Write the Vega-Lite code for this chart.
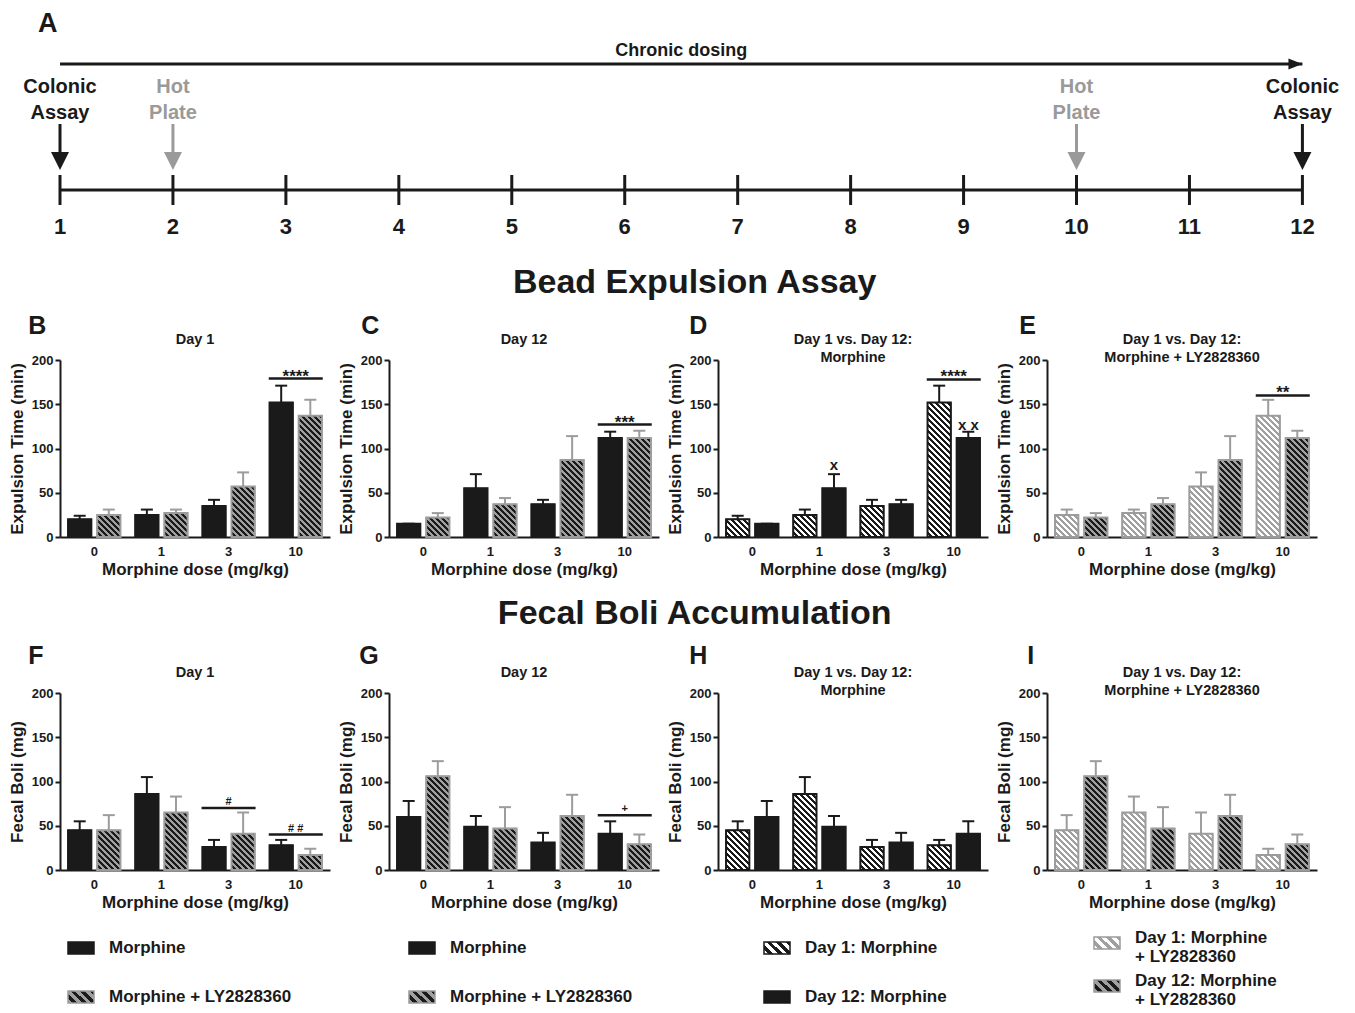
{
"$schema":"https://vega.github.io/schema/vega-lite/v6.json",
"background":"white",
"padding":{"left":8,"top":9,"right":5,"bottom":0},
"config":{
 "font":"Liberation Sans",
 "view":{"stroke":null},
 "title":{"font":"Liberation Sans","fontWeight":"bold","color":"#1a1a1a"},
 "axis":{"labelFont":"Liberation Sans","titleFont":"Liberation Sans","labelFontWeight":"bold","titleFontWeight":"bold","labelColor":"#1a1a1a","titleColor":"#1a1a1a","domainColor":"#1a1a1a","tickColor":"#1a1a1a","domainWidth":2,"tickWidth":2,"grid":false,"labelFontSize":13,"titleFontSize":17},
 "axisX":{"ticks":false,"labelAngle":0,"labelPadding":8,"titlePadding":3},
 "axisY":{"tickSize":5,"labelPadding":2,"titlePadding":5},
 "text":{"font":"Liberation Sans"},
 "legend":{"labelFont":"Liberation Sans"}
},
"params":[
 {"name":"sGB","value":[{"offset":0,"color":"#a0a0a0"},{"offset":0.0179,"color":"#a0a0a0"},{"offset":0.0179,"color":"#1a1a1a"},{"offset":0.0357,"color":"#1a1a1a"},{"offset":0.0357,"color":"#a0a0a0"},{"offset":0.0536,"color":"#a0a0a0"},{"offset":0.0536,"color":"#1a1a1a"},{"offset":0.0714,"color":"#1a1a1a"},{"offset":0.0714,"color":"#a0a0a0"},{"offset":0.0893,"color":"#a0a0a0"},{"offset":0.0893,"color":"#1a1a1a"},{"offset":0.1071,"color":"#1a1a1a"},{"offset":0.1071,"color":"#a0a0a0"},{"offset":0.125,"color":"#a0a0a0"},{"offset":0.125,"color":"#1a1a1a"},{"offset":0.1429,"color":"#1a1a1a"},{"offset":0.1429,"color":"#a0a0a0"},{"offset":0.1607,"color":"#a0a0a0"},{"offset":0.1607,"color":"#1a1a1a"},{"offset":0.1786,"color":"#1a1a1a"},{"offset":0.1786,"color":"#a0a0a0"},{"offset":0.1964,"color":"#a0a0a0"},{"offset":0.1964,"color":"#1a1a1a"},{"offset":0.2143,"color":"#1a1a1a"},{"offset":0.2143,"color":"#a0a0a0"},{"offset":0.2321,"color":"#a0a0a0"},{"offset":0.2321,"color":"#1a1a1a"},{"offset":0.25,"color":"#1a1a1a"},{"offset":0.25,"color":"#a0a0a0"},{"offset":0.2679,"color":"#a0a0a0"},{"offset":0.2679,"color":"#1a1a1a"},{"offset":0.2857,"color":"#1a1a1a"},{"offset":0.2857,"color":"#a0a0a0"},{"offset":0.3036,"color":"#a0a0a0"},{"offset":0.3036,"color":"#1a1a1a"},{"offset":0.3214,"color":"#1a1a1a"},{"offset":0.3214,"color":"#a0a0a0"},{"offset":0.3393,"color":"#a0a0a0"},{"offset":0.3393,"color":"#1a1a1a"},{"offset":0.3571,"color":"#1a1a1a"},{"offset":0.3571,"color":"#a0a0a0"},{"offset":0.375,"color":"#a0a0a0"},{"offset":0.375,"color":"#1a1a1a"},{"offset":0.3929,"color":"#1a1a1a"},{"offset":0.3929,"color":"#a0a0a0"},{"offset":0.4107,"color":"#a0a0a0"},{"offset":0.4107,"color":"#1a1a1a"},{"offset":0.4286,"color":"#1a1a1a"},{"offset":0.4286,"color":"#a0a0a0"},{"offset":0.4464,"color":"#a0a0a0"},{"offset":0.4464,"color":"#1a1a1a"},{"offset":0.4643,"color":"#1a1a1a"},{"offset":0.4643,"color":"#a0a0a0"},{"offset":0.4821,"color":"#a0a0a0"},{"offset":0.4821,"color":"#1a1a1a"},{"offset":0.5,"color":"#1a1a1a"},{"offset":0.5,"color":"#a0a0a0"},{"offset":0.5179,"color":"#a0a0a0"},{"offset":0.5179,"color":"#1a1a1a"},{"offset":0.5357,"color":"#1a1a1a"},{"offset":0.5357,"color":"#a0a0a0"},{"offset":0.5536,"color":"#a0a0a0"},{"offset":0.5536,"color":"#1a1a1a"},{"offset":0.5714,"color":"#1a1a1a"},{"offset":0.5714,"color":"#a0a0a0"},{"offset":0.5893,"color":"#a0a0a0"},{"offset":0.5893,"color":"#1a1a1a"},{"offset":0.6071,"color":"#1a1a1a"},{"offset":0.6071,"color":"#a0a0a0"},{"offset":0.625,"color":"#a0a0a0"},{"offset":0.625,"color":"#1a1a1a"},{"offset":0.6429,"color":"#1a1a1a"},{"offset":0.6429,"color":"#a0a0a0"},{"offset":0.6607,"color":"#a0a0a0"},{"offset":0.6607,"color":"#1a1a1a"},{"offset":0.6786,"color":"#1a1a1a"},{"offset":0.6786,"color":"#a0a0a0"},{"offset":0.6964,"color":"#a0a0a0"},{"offset":0.6964,"color":"#1a1a1a"},{"offset":0.7143,"color":"#1a1a1a"},{"offset":0.7143,"color":"#a0a0a0"},{"offset":0.7321,"color":"#a0a0a0"},{"offset":0.7321,"color":"#1a1a1a"},{"offset":0.75,"color":"#1a1a1a"},{"offset":0.75,"color":"#a0a0a0"},{"offset":0.7679,"color":"#a0a0a0"},{"offset":0.7679,"color":"#1a1a1a"},{"offset":0.7857,"color":"#1a1a1a"},{"offset":0.7857,"color":"#a0a0a0"},{"offset":0.8036,"color":"#a0a0a0"},{"offset":0.8036,"color":"#1a1a1a"},{"offset":0.8214,"color":"#1a1a1a"},{"offset":0.8214,"color":"#a0a0a0"},{"offset":0.8393,"color":"#a0a0a0"},{"offset":0.8393,"color":"#1a1a1a"},{"offset":0.8571,"color":"#1a1a1a"},{"offset":0.8571,"color":"#a0a0a0"},{"offset":0.875,"color":"#a0a0a0"},{"offset":0.875,"color":"#1a1a1a"},{"offset":0.8929,"color":"#1a1a1a"},{"offset":0.8929,"color":"#a0a0a0"},{"offset":0.9107,"color":"#a0a0a0"},{"offset":0.9107,"color":"#1a1a1a"},{"offset":0.9286,"color":"#1a1a1a"},{"offset":0.9286,"color":"#a0a0a0"},{"offset":0.9464,"color":"#a0a0a0"},{"offset":0.9464,"color":"#1a1a1a"},{"offset":0.9643,"color":"#1a1a1a"},{"offset":0.9643,"color":"#a0a0a0"},{"offset":0.9821,"color":"#a0a0a0"},{"offset":0.9821,"color":"#1a1a1a"},{"offset":1,"color":"#1a1a1a"}]},
 {"name":"sWB","value":[{"offset":0,"color":"#ffffff"},{"offset":0.0179,"color":"#ffffff"},{"offset":0.0179,"color":"#1a1a1a"},{"offset":0.0357,"color":"#1a1a1a"},{"offset":0.0357,"color":"#ffffff"},{"offset":0.0536,"color":"#ffffff"},{"offset":0.0536,"color":"#1a1a1a"},{"offset":0.0714,"color":"#1a1a1a"},{"offset":0.0714,"color":"#ffffff"},{"offset":0.0893,"color":"#ffffff"},{"offset":0.0893,"color":"#1a1a1a"},{"offset":0.1071,"color":"#1a1a1a"},{"offset":0.1071,"color":"#ffffff"},{"offset":0.125,"color":"#ffffff"},{"offset":0.125,"color":"#1a1a1a"},{"offset":0.1429,"color":"#1a1a1a"},{"offset":0.1429,"color":"#ffffff"},{"offset":0.1607,"color":"#ffffff"},{"offset":0.1607,"color":"#1a1a1a"},{"offset":0.1786,"color":"#1a1a1a"},{"offset":0.1786,"color":"#ffffff"},{"offset":0.1964,"color":"#ffffff"},{"offset":0.1964,"color":"#1a1a1a"},{"offset":0.2143,"color":"#1a1a1a"},{"offset":0.2143,"color":"#ffffff"},{"offset":0.2321,"color":"#ffffff"},{"offset":0.2321,"color":"#1a1a1a"},{"offset":0.25,"color":"#1a1a1a"},{"offset":0.25,"color":"#ffffff"},{"offset":0.2679,"color":"#ffffff"},{"offset":0.2679,"color":"#1a1a1a"},{"offset":0.2857,"color":"#1a1a1a"},{"offset":0.2857,"color":"#ffffff"},{"offset":0.3036,"color":"#ffffff"},{"offset":0.3036,"color":"#1a1a1a"},{"offset":0.3214,"color":"#1a1a1a"},{"offset":0.3214,"color":"#ffffff"},{"offset":0.3393,"color":"#ffffff"},{"offset":0.3393,"color":"#1a1a1a"},{"offset":0.3571,"color":"#1a1a1a"},{"offset":0.3571,"color":"#ffffff"},{"offset":0.375,"color":"#ffffff"},{"offset":0.375,"color":"#1a1a1a"},{"offset":0.3929,"color":"#1a1a1a"},{"offset":0.3929,"color":"#ffffff"},{"offset":0.4107,"color":"#ffffff"},{"offset":0.4107,"color":"#1a1a1a"},{"offset":0.4286,"color":"#1a1a1a"},{"offset":0.4286,"color":"#ffffff"},{"offset":0.4464,"color":"#ffffff"},{"offset":0.4464,"color":"#1a1a1a"},{"offset":0.4643,"color":"#1a1a1a"},{"offset":0.4643,"color":"#ffffff"},{"offset":0.4821,"color":"#ffffff"},{"offset":0.4821,"color":"#1a1a1a"},{"offset":0.5,"color":"#1a1a1a"},{"offset":0.5,"color":"#ffffff"},{"offset":0.5179,"color":"#ffffff"},{"offset":0.5179,"color":"#1a1a1a"},{"offset":0.5357,"color":"#1a1a1a"},{"offset":0.5357,"color":"#ffffff"},{"offset":0.5536,"color":"#ffffff"},{"offset":0.5536,"color":"#1a1a1a"},{"offset":0.5714,"color":"#1a1a1a"},{"offset":0.5714,"color":"#ffffff"},{"offset":0.5893,"color":"#ffffff"},{"offset":0.5893,"color":"#1a1a1a"},{"offset":0.6071,"color":"#1a1a1a"},{"offset":0.6071,"color":"#ffffff"},{"offset":0.625,"color":"#ffffff"},{"offset":0.625,"color":"#1a1a1a"},{"offset":0.6429,"color":"#1a1a1a"},{"offset":0.6429,"color":"#ffffff"},{"offset":0.6607,"color":"#ffffff"},{"offset":0.6607,"color":"#1a1a1a"},{"offset":0.6786,"color":"#1a1a1a"},{"offset":0.6786,"color":"#ffffff"},{"offset":0.6964,"color":"#ffffff"},{"offset":0.6964,"color":"#1a1a1a"},{"offset":0.7143,"color":"#1a1a1a"},{"offset":0.7143,"color":"#ffffff"},{"offset":0.7321,"color":"#ffffff"},{"offset":0.7321,"color":"#1a1a1a"},{"offset":0.75,"color":"#1a1a1a"},{"offset":0.75,"color":"#ffffff"},{"offset":0.7679,"color":"#ffffff"},{"offset":0.7679,"color":"#1a1a1a"},{"offset":0.7857,"color":"#1a1a1a"},{"offset":0.7857,"color":"#ffffff"},{"offset":0.8036,"color":"#ffffff"},{"offset":0.8036,"color":"#1a1a1a"},{"offset":0.8214,"color":"#1a1a1a"},{"offset":0.8214,"color":"#ffffff"},{"offset":0.8393,"color":"#ffffff"},{"offset":0.8393,"color":"#1a1a1a"},{"offset":0.8571,"color":"#1a1a1a"},{"offset":0.8571,"color":"#ffffff"},{"offset":0.875,"color":"#ffffff"},{"offset":0.875,"color":"#1a1a1a"},{"offset":0.8929,"color":"#1a1a1a"},{"offset":0.8929,"color":"#ffffff"},{"offset":0.9107,"color":"#ffffff"},{"offset":0.9107,"color":"#1a1a1a"},{"offset":0.9286,"color":"#1a1a1a"},{"offset":0.9286,"color":"#ffffff"},{"offset":0.9464,"color":"#ffffff"},{"offset":0.9464,"color":"#1a1a1a"},{"offset":0.9643,"color":"#1a1a1a"},{"offset":0.9643,"color":"#ffffff"},{"offset":0.9821,"color":"#ffffff"},{"offset":0.9821,"color":"#1a1a1a"},{"offset":1,"color":"#1a1a1a"}]},
 {"name":"sWG","value":[{"offset":0,"color":"#ffffff"},{"offset":0.0179,"color":"#ffffff"},{"offset":0.0179,"color":"#a0a0a0"},{"offset":0.0357,"color":"#a0a0a0"},{"offset":0.0357,"color":"#ffffff"},{"offset":0.0536,"color":"#ffffff"},{"offset":0.0536,"color":"#a0a0a0"},{"offset":0.0714,"color":"#a0a0a0"},{"offset":0.0714,"color":"#ffffff"},{"offset":0.0893,"color":"#ffffff"},{"offset":0.0893,"color":"#a0a0a0"},{"offset":0.1071,"color":"#a0a0a0"},{"offset":0.1071,"color":"#ffffff"},{"offset":0.125,"color":"#ffffff"},{"offset":0.125,"color":"#a0a0a0"},{"offset":0.1429,"color":"#a0a0a0"},{"offset":0.1429,"color":"#ffffff"},{"offset":0.1607,"color":"#ffffff"},{"offset":0.1607,"color":"#a0a0a0"},{"offset":0.1786,"color":"#a0a0a0"},{"offset":0.1786,"color":"#ffffff"},{"offset":0.1964,"color":"#ffffff"},{"offset":0.1964,"color":"#a0a0a0"},{"offset":0.2143,"color":"#a0a0a0"},{"offset":0.2143,"color":"#ffffff"},{"offset":0.2321,"color":"#ffffff"},{"offset":0.2321,"color":"#a0a0a0"},{"offset":0.25,"color":"#a0a0a0"},{"offset":0.25,"color":"#ffffff"},{"offset":0.2679,"color":"#ffffff"},{"offset":0.2679,"color":"#a0a0a0"},{"offset":0.2857,"color":"#a0a0a0"},{"offset":0.2857,"color":"#ffffff"},{"offset":0.3036,"color":"#ffffff"},{"offset":0.3036,"color":"#a0a0a0"},{"offset":0.3214,"color":"#a0a0a0"},{"offset":0.3214,"color":"#ffffff"},{"offset":0.3393,"color":"#ffffff"},{"offset":0.3393,"color":"#a0a0a0"},{"offset":0.3571,"color":"#a0a0a0"},{"offset":0.3571,"color":"#ffffff"},{"offset":0.375,"color":"#ffffff"},{"offset":0.375,"color":"#a0a0a0"},{"offset":0.3929,"color":"#a0a0a0"},{"offset":0.3929,"color":"#ffffff"},{"offset":0.4107,"color":"#ffffff"},{"offset":0.4107,"color":"#a0a0a0"},{"offset":0.4286,"color":"#a0a0a0"},{"offset":0.4286,"color":"#ffffff"},{"offset":0.4464,"color":"#ffffff"},{"offset":0.4464,"color":"#a0a0a0"},{"offset":0.4643,"color":"#a0a0a0"},{"offset":0.4643,"color":"#ffffff"},{"offset":0.4821,"color":"#ffffff"},{"offset":0.4821,"color":"#a0a0a0"},{"offset":0.5,"color":"#a0a0a0"},{"offset":0.5,"color":"#ffffff"},{"offset":0.5179,"color":"#ffffff"},{"offset":0.5179,"color":"#a0a0a0"},{"offset":0.5357,"color":"#a0a0a0"},{"offset":0.5357,"color":"#ffffff"},{"offset":0.5536,"color":"#ffffff"},{"offset":0.5536,"color":"#a0a0a0"},{"offset":0.5714,"color":"#a0a0a0"},{"offset":0.5714,"color":"#ffffff"},{"offset":0.5893,"color":"#ffffff"},{"offset":0.5893,"color":"#a0a0a0"},{"offset":0.6071,"color":"#a0a0a0"},{"offset":0.6071,"color":"#ffffff"},{"offset":0.625,"color":"#ffffff"},{"offset":0.625,"color":"#a0a0a0"},{"offset":0.6429,"color":"#a0a0a0"},{"offset":0.6429,"color":"#ffffff"},{"offset":0.6607,"color":"#ffffff"},{"offset":0.6607,"color":"#a0a0a0"},{"offset":0.6786,"color":"#a0a0a0"},{"offset":0.6786,"color":"#ffffff"},{"offset":0.6964,"color":"#ffffff"},{"offset":0.6964,"color":"#a0a0a0"},{"offset":0.7143,"color":"#a0a0a0"},{"offset":0.7143,"color":"#ffffff"},{"offset":0.7321,"color":"#ffffff"},{"offset":0.7321,"color":"#a0a0a0"},{"offset":0.75,"color":"#a0a0a0"},{"offset":0.75,"color":"#ffffff"},{"offset":0.7679,"color":"#ffffff"},{"offset":0.7679,"color":"#a0a0a0"},{"offset":0.7857,"color":"#a0a0a0"},{"offset":0.7857,"color":"#ffffff"},{"offset":0.8036,"color":"#ffffff"},{"offset":0.8036,"color":"#a0a0a0"},{"offset":0.8214,"color":"#a0a0a0"},{"offset":0.8214,"color":"#ffffff"},{"offset":0.8393,"color":"#ffffff"},{"offset":0.8393,"color":"#a0a0a0"},{"offset":0.8571,"color":"#a0a0a0"},{"offset":0.8571,"color":"#ffffff"},{"offset":0.875,"color":"#ffffff"},{"offset":0.875,"color":"#a0a0a0"},{"offset":0.8929,"color":"#a0a0a0"},{"offset":0.8929,"color":"#ffffff"},{"offset":0.9107,"color":"#ffffff"},{"offset":0.9107,"color":"#a0a0a0"},{"offset":0.9286,"color":"#a0a0a0"},{"offset":0.9286,"color":"#ffffff"},{"offset":0.9464,"color":"#ffffff"},{"offset":0.9464,"color":"#a0a0a0"},{"offset":0.9643,"color":"#a0a0a0"},{"offset":0.9643,"color":"#ffffff"},{"offset":0.9821,"color":"#ffffff"},{"offset":0.9821,"color":"#a0a0a0"},{"offset":1,"color":"#a0a0a0"}]},
 {"name":"lgGB","value":{"gradient":"linear","x1":0,"y1":1,"x2":1.205,"y2":0.444,"stops":[{"offset":0,"color":"#a0a0a0"},{"offset":0.125,"color":"#a0a0a0"},{"offset":0.125,"color":"#1a1a1a"},{"offset":0.25,"color":"#1a1a1a"},{"offset":0.25,"color":"#a0a0a0"},{"offset":0.375,"color":"#a0a0a0"},{"offset":0.375,"color":"#1a1a1a"},{"offset":0.5,"color":"#1a1a1a"},{"offset":0.5,"color":"#a0a0a0"},{"offset":0.625,"color":"#a0a0a0"},{"offset":0.625,"color":"#1a1a1a"},{"offset":0.75,"color":"#1a1a1a"},{"offset":0.75,"color":"#a0a0a0"},{"offset":0.875,"color":"#a0a0a0"},{"offset":0.875,"color":"#1a1a1a"},{"offset":1,"color":"#1a1a1a"}]}},
 {"name":"lgWB","value":{"gradient":"linear","x1":0,"y1":1,"x2":1.205,"y2":0.444,"stops":[{"offset":0,"color":"#ffffff"},{"offset":0.125,"color":"#ffffff"},{"offset":0.125,"color":"#1a1a1a"},{"offset":0.25,"color":"#1a1a1a"},{"offset":0.25,"color":"#ffffff"},{"offset":0.375,"color":"#ffffff"},{"offset":0.375,"color":"#1a1a1a"},{"offset":0.5,"color":"#1a1a1a"},{"offset":0.5,"color":"#ffffff"},{"offset":0.625,"color":"#ffffff"},{"offset":0.625,"color":"#1a1a1a"},{"offset":0.75,"color":"#1a1a1a"},{"offset":0.75,"color":"#ffffff"},{"offset":0.875,"color":"#ffffff"},{"offset":0.875,"color":"#1a1a1a"},{"offset":1,"color":"#1a1a1a"}]}},
 {"name":"lgWG","value":{"gradient":"linear","x1":0,"y1":1,"x2":1.205,"y2":0.444,"stops":[{"offset":0,"color":"#ffffff"},{"offset":0.125,"color":"#ffffff"},{"offset":0.125,"color":"#a0a0a0"},{"offset":0.25,"color":"#a0a0a0"},{"offset":0.25,"color":"#ffffff"},{"offset":0.375,"color":"#ffffff"},{"offset":0.375,"color":"#a0a0a0"},{"offset":0.5,"color":"#a0a0a0"},{"offset":0.5,"color":"#ffffff"},{"offset":0.625,"color":"#ffffff"},{"offset":0.625,"color":"#a0a0a0"},{"offset":0.75,"color":"#a0a0a0"},{"offset":0.75,"color":"#ffffff"},{"offset":0.875,"color":"#ffffff"},{"offset":0.875,"color":"#a0a0a0"},{"offset":1,"color":"#a0a0a0"}]}}
],
"datasets":{
 "span":[{"start":1,"end":12,"label":"Chronic dosing"}],
 "days":[{"day":1},{"day":2},{"day":3},{"day":4},{"day":5},{"day":6},{"day":7},{"day":8},{"day":9},{"day":10},{"day":11},{"day":12}],
 "events":[{"day":1,"event":"Colonic Assay","type":"Colonic"},{"day":2,"event":"Hot Plate","type":"Hot"},{"day":10,"event":"Hot Plate","type":"Hot"},{"day":12,"event":"Colonic Assay","type":"Colonic"}],
 "bars":[
  {"panel":"B","dose":"0","grp":"Morphine","mean":20,"upper":24},
  {"panel":"B","dose":"1","grp":"Morphine","mean":25,"upper":31},
  {"panel":"B","dose":"3","grp":"Morphine","mean":35,"upper":42},
  {"panel":"B","dose":"10","grp":"Morphine","mean":152,"upper":171},
  {"panel":"B","dose":"0","grp":"Morphine + LY2828360","mean":25,"upper":31},
  {"panel":"B","dose":"1","grp":"Morphine + LY2828360","mean":27,"upper":31},
  {"panel":"B","dose":"3","grp":"Morphine + LY2828360","mean":57,"upper":73},
  {"panel":"B","dose":"10","grp":"Morphine + LY2828360","mean":137,"upper":155},
  {"panel":"C","dose":"0","grp":"Morphine","mean":15,"upper":15},
  {"panel":"C","dose":"1","grp":"Morphine","mean":55,"upper":71},
  {"panel":"C","dose":"3","grp":"Morphine","mean":37,"upper":42},
  {"panel":"C","dose":"10","grp":"Morphine","mean":112,"upper":119},
  {"panel":"C","dose":"0","grp":"Morphine + LY2828360","mean":22,"upper":27},
  {"panel":"C","dose":"1","grp":"Morphine + LY2828360","mean":37,"upper":44},
  {"panel":"C","dose":"3","grp":"Morphine + LY2828360","mean":87,"upper":114},
  {"panel":"C","dose":"10","grp":"Morphine + LY2828360","mean":112,"upper":120},
  {"panel":"D","dose":"0","grp":"Day 1: Morphine","mean":20,"upper":24},
  {"panel":"D","dose":"1","grp":"Day 1: Morphine","mean":25,"upper":31},
  {"panel":"D","dose":"3","grp":"Day 1: Morphine","mean":35,"upper":42},
  {"panel":"D","dose":"10","grp":"Day 1: Morphine","mean":152,"upper":171},
  {"panel":"D","dose":"0","grp":"Day 12: Morphine","mean":15,"upper":15},
  {"panel":"D","dose":"1","grp":"Day 12: Morphine","mean":55,"upper":71},
  {"panel":"D","dose":"3","grp":"Day 12: Morphine","mean":37,"upper":42},
  {"panel":"D","dose":"10","grp":"Day 12: Morphine","mean":112,"upper":119},
  {"panel":"E","dose":"0","grp":"Day 1: Morphine + LY2828360","mean":25,"upper":31},
  {"panel":"E","dose":"1","grp":"Day 1: Morphine + LY2828360","mean":27,"upper":31},
  {"panel":"E","dose":"3","grp":"Day 1: Morphine + LY2828360","mean":57,"upper":73},
  {"panel":"E","dose":"10","grp":"Day 1: Morphine + LY2828360","mean":137,"upper":155},
  {"panel":"E","dose":"0","grp":"Day 12: Morphine + LY2828360","mean":22,"upper":27},
  {"panel":"E","dose":"1","grp":"Day 12: Morphine + LY2828360","mean":37,"upper":44},
  {"panel":"E","dose":"3","grp":"Day 12: Morphine + LY2828360","mean":87,"upper":114},
  {"panel":"E","dose":"10","grp":"Day 12: Morphine + LY2828360","mean":112,"upper":120},
  {"panel":"F","dose":"0","grp":"Morphine","mean":45,"upper":55},
  {"panel":"F","dose":"1","grp":"Morphine","mean":86,"upper":105},
  {"panel":"F","dose":"3","grp":"Morphine","mean":26,"upper":34},
  {"panel":"F","dose":"10","grp":"Morphine","mean":28,"upper":34},
  {"panel":"F","dose":"0","grp":"Morphine + LY2828360","mean":45,"upper":62},
  {"panel":"F","dose":"1","grp":"Morphine + LY2828360","mean":65,"upper":83},
  {"panel":"F","dose":"3","grp":"Morphine + LY2828360","mean":41,"upper":65},
  {"panel":"F","dose":"10","grp":"Morphine + LY2828360","mean":17,"upper":24},
  {"panel":"G","dose":"0","grp":"Morphine","mean":60,"upper":78},
  {"panel":"G","dose":"1","grp":"Morphine","mean":49,"upper":61},
  {"panel":"G","dose":"3","grp":"Morphine","mean":31,"upper":42},
  {"panel":"G","dose":"10","grp":"Morphine","mean":41,"upper":55},
  {"panel":"G","dose":"0","grp":"Morphine + LY2828360","mean":106,"upper":123},
  {"panel":"G","dose":"1","grp":"Morphine + LY2828360","mean":47,"upper":71},
  {"panel":"G","dose":"3","grp":"Morphine + LY2828360","mean":61,"upper":85},
  {"panel":"G","dose":"10","grp":"Morphine + LY2828360","mean":29,"upper":40},
  {"panel":"H","dose":"0","grp":"Day 1: Morphine","mean":45,"upper":55},
  {"panel":"H","dose":"1","grp":"Day 1: Morphine","mean":86,"upper":105},
  {"panel":"H","dose":"3","grp":"Day 1: Morphine","mean":26,"upper":34},
  {"panel":"H","dose":"10","grp":"Day 1: Morphine","mean":28,"upper":34},
  {"panel":"H","dose":"0","grp":"Day 12: Morphine","mean":60,"upper":78},
  {"panel":"H","dose":"1","grp":"Day 12: Morphine","mean":49,"upper":61},
  {"panel":"H","dose":"3","grp":"Day 12: Morphine","mean":31,"upper":42},
  {"panel":"H","dose":"10","grp":"Day 12: Morphine","mean":41,"upper":55},
  {"panel":"I","dose":"0","grp":"Day 1: Morphine + LY2828360","mean":45,"upper":62},
  {"panel":"I","dose":"1","grp":"Day 1: Morphine + LY2828360","mean":65,"upper":83},
  {"panel":"I","dose":"3","grp":"Day 1: Morphine + LY2828360","mean":41,"upper":65},
  {"panel":"I","dose":"10","grp":"Day 1: Morphine + LY2828360","mean":17,"upper":24},
  {"panel":"I","dose":"0","grp":"Day 12: Morphine + LY2828360","mean":106,"upper":123},
  {"panel":"I","dose":"1","grp":"Day 12: Morphine + LY2828360","mean":47,"upper":71},
  {"panel":"I","dose":"3","grp":"Day 12: Morphine + LY2828360","mean":61,"upper":85},
  {"panel":"I","dose":"10","grp":"Day 12: Morphine + LY2828360","mean":29,"upper":40}
 ],
 "sig":[
  {"panel":"B","dose":"10","y":179,"label":"****"},
  {"panel":"C","dose":"10","y":127,"label":"***"},
  {"panel":"D","dose":"10","y":178,"label":"****"},
  {"panel":"E","dose":"10","y":160,"label":"**"},
  {"panel":"F","dose":"3","y":70,"label":"#"},
  {"panel":"F","dose":"10","y":40,"label":"# #"},
  {"panel":"G","dose":"10","y":62,"label":"+"}
 ],
 "marks":[
  {"panel":"D","dose":"1","grp":"Day 12: Morphine","y":81,"label":"x"},
  {"panel":"D","dose":"10","grp":"Day 12: Morphine","y":127,"label":"x x"}
 ]
},
"resolve":{"scale":{"fill":"independent","stroke":"independent","xOffset":"independent","color":"independent","x":"independent","y":"independent"}},
"spacing":23,
"vconcat":[
 {
  "title":{"text":"A","anchor":"start","frame":"group","fontSize":27,"offset":4,"dx":-22},
  "width":1265,"height":200,
  "layer":[
   {"data":{"name":"span"},"mark":{"type":"rule","strokeWidth":3,"color":"#1a1a1a"},
    "encoding":{"x":{"field":"start","type":"quantitative","scale":{"domain":[1,12.2],"zero":false,"nice":false},"axis":null},"x2":{"field":"end"},"y":{"datum":26,"type":"quantitative","scale":{"domain":[0,100],"zero":false,"nice":false},"axis":null}}},
   {"data":{"name":"span"},"mark":{"type":"rule","strokeWidth":3,"color":"#1a1a1a"},
    "encoding":{"x":{"field":"start","type":"quantitative"},"x2":{"field":"end"},"y":{"datum":89,"type":"quantitative"}}},
   {"data":{"name":"span"},"mark":{"type":"point","shape":"M-2,-0.8L0,0L-2,0.8Z","filled":true,"size":196,"color":"#1a1a1a","opacity":1},
    "encoding":{"x":{"field":"end","type":"quantitative"},"y":{"datum":89,"type":"quantitative"}}},
   {"data":{"name":"span"},"mark":{"type":"text","fontSize":18,"fontWeight":"bold","baseline":"alphabetic","color":"#1a1a1a"},
    "encoding":{"x":{"datum":6.5,"type":"quantitative"},"y":{"datum":93,"type":"quantitative"},"text":{"field":"label","type":"nominal"}}},
   {"data":{"name":"days"},"mark":{"type":"rule","strokeWidth":3,"color":"#1a1a1a"},
    "encoding":{"x":{"field":"day","type":"quantitative"},"y":{"datum":18.5,"type":"quantitative"},"y2":{"datum":33.5}}},
   {"data":{"name":"days"},"mark":{"type":"text","fontSize":22,"fontWeight":"bold","baseline":"middle","color":"#1a1a1a"},
    "encoding":{"x":{"field":"day","type":"quantitative"},"y":{"datum":7.5,"type":"quantitative"},"text":{"field":"day","type":"nominal"}}},
   {"data":{"name":"events"},"mark":{"type":"rule","strokeWidth":3},
    "encoding":{"x":{"field":"day","type":"quantitative"},"y":{"datum":44,"type":"quantitative"},"y2":{"datum":59},"color":{"field":"type","type":"nominal","scale":{"domain":["Colonic","Hot"],"range":["#1a1a1a","#9a9a9a"]},"legend":null}}},
   {"data":{"name":"events"},"mark":{"type":"point","shape":"M-1,-1L1,-1L0,1Z","filled":true,"size":324,"opacity":1},
    "encoding":{"x":{"field":"day","type":"quantitative"},"y":{"datum":40.5,"type":"quantitative"},"color":{"field":"type","type":"nominal","legend":null}}},
   {"data":{"name":"events"},"mark":{"type":"text","fontSize":20,"fontWeight":"bold","baseline":"alphabetic","lineBreak":" ","lineHeight":26},
    "encoding":{"x":{"field":"day","type":"quantitative"},"y":{"datum":74.5,"type":"quantitative"},"text":{"field":"event","type":"nominal"},"color":{"field":"type","type":"nominal","legend":null}}}
  ]
 },
 {
  "spacing":19,
  "resolve":{"scale":{"fill":"independent","stroke":"independent","xOffset":"independent","color":"independent","x":"independent","y":"independent"}},
  "vconcat":[
   {
    "title":{"text":"Bead Expulsion Assay","fontSize":34,"anchor":"middle","dx":32,"offset":14},
    "spacing":7,
    "resolve":{"scale":{"fill":"independent","stroke":"independent","xOffset":"independent","color":"independent","x":"independent","y":"independent"}},
    "hconcat":[
     {"title":{"text":"B","anchor":"start","fontSize":25,"offset":-7,"dx":20},
      "vconcat":[{"width":270,"height":177,
       "title":{"text":["Day 1"," "],"fontSize":14.5,"lineHeight":18,"offset":-11,"anchor":"middle","frame":"group"},
       "encoding":{"x":{"field":"dose","type":"nominal","sort":["0","1","3","10"],"scale":{"domain":["0","1","3","10"],"paddingInner":0.22,"paddingOuter":0.12},"axis":{"title":"Morphine dose (mg/kg)"}}},
       "layer":[
        {"data":{"name":"bars"},"transform":[{"filter":"datum.panel == 'B'"}],"mark":{"type":"bar"},
         "encoding":{"xOffset":{"field":"grp","type":"nominal","scale":{"domain":["Morphine","Morphine + LY2828360"],"paddingInner":0.2,"paddingOuter":0}},
          "y":{"field":"mean","type":"quantitative","stack":null,"scale":{"domain":[0,200]},"axis":{"values":[0,50,100,150,200],"title":"Expulsion Time (min)"}},
          "fill":{"field":"grp","type":"nominal","scale":{"domain":["Morphine","Morphine + LY2828360"],"range":["#1a1a1a",{"expr":"lgGB"}]},"legend":null},
          "stroke":{"field":"grp","type":"nominal","scale":{"domain":["Morphine","Morphine + LY2828360"],"range":["#1a1a1a","#9c9c9c"]},"legend":null}}},
        {"data":{"name":"bars"},"transform":[{"filter":"datum.panel == 'B'"}],
         "mark":{"type":"bar","strokeWidth":2,"fill":{"expr":"datum.grp == 'Morphine' || datum.grp == 'Day 12: Morphine' ? '#1a1a1a' : {gradient: 'linear', x1: 0, y1: 1, x2: 3911 / (542 + pow(datum.mean * 0.885, 2)), y2: 1 - 148.7 * datum.mean / (542 + pow(datum.mean * 0.885, 2)), stops: datum.grp == 'Day 1: Morphine' ? sWB : (datum.grp == 'Day 1: Morphine + LY2828360' ? sWG : sGB)}"},"stroke":{"expr":"indexof(datum.grp, 'LY') >= 0 ? '#9c9c9c' : '#1a1a1a'"}},
         "encoding":{"xOffset":{"field":"grp","type":"nominal"},"y":{"field":"mean","type":"quantitative","stack":null,"title":"Expulsion Time (min)"}}},
        {"data":{"name":"bars"},"transform":[{"filter":"datum.panel == 'B'"}],
         "mark":{"type":"rule","strokeWidth":2,"color":{"expr":"indexof(datum.grp, 'LY') >= 0 ? '#9c9c9c' : '#1a1a1a'"}},
         "encoding":{"xOffset":{"field":"grp","type":"nominal"},"y":{"field":"mean","type":"quantitative","title":"Expulsion Time (min)"},"y2":{"field":"upper"}}},
        {"data":{"name":"bars"},"transform":[{"filter":"datum.panel == 'B'"}],
         "mark":{"type":"tick","size":12,"thickness":2,"opacity":1,"color":{"expr":"indexof(datum.grp, 'LY') >= 0 ? '#9c9c9c' : '#1a1a1a'"}},
         "encoding":{"xOffset":{"field":"grp","type":"nominal"},"y":{"field":"upper","type":"quantitative","title":"Expulsion Time (min)"}}},
        {"data":{"name":"sig"},"transform":[{"filter":"datum.panel == 'B'"}],
         "mark":{"type":"tick","size":54,"thickness":2.5,"opacity":1,"color":"#1a1a1a"},
         "encoding":{"y":{"field":"y","type":"quantitative","title":"Expulsion Time (min)"}}},
        {"data":{"name":"sig"},"transform":[{"filter":"datum.panel == 'B'"}],
         "mark":{"type":"text","fontWeight":"bold","baseline":"alphabetic","color":"#1a1a1a","fontSize":{"expr":"indexof(datum.label, '*') >= 0 ? 17 : 11"},"dy":{"expr":"indexof(datum.label, '*') >= 0 ? 3 : -3"}},
         "encoding":{"y":{"field":"y","type":"quantitative","title":"Expulsion Time (min)"},"text":{"field":"label","type":"nominal"}}}
       ]}]},
     {"title":{"text":"C","anchor":"start","fontSize":25,"offset":-7,"dx":24},
      "vconcat":[{"width":270,"height":177,
       "title":{"text":["Day 12"," "],"fontSize":14.5,"lineHeight":18,"offset":-11,"anchor":"middle","frame":"group"},
       "encoding":{"x":{"field":"dose","type":"nominal","sort":["0","1","3","10"],"scale":{"domain":["0","1","3","10"],"paddingInner":0.22,"paddingOuter":0.12},"axis":{"title":"Morphine dose (mg/kg)"}}},
       "layer":[
        {"data":{"name":"bars"},"transform":[{"filter":"datum.panel == 'C'"}],"mark":{"type":"bar"},
         "encoding":{"xOffset":{"field":"grp","type":"nominal","scale":{"domain":["Morphine","Morphine + LY2828360"],"paddingInner":0.2,"paddingOuter":0}},
          "y":{"field":"mean","type":"quantitative","stack":null,"scale":{"domain":[0,200]},"axis":{"values":[0,50,100,150,200],"title":"Expulsion Time (min)"}},
          "fill":{"field":"grp","type":"nominal","scale":{"domain":["Morphine","Morphine + LY2828360"],"range":["#1a1a1a",{"expr":"lgGB"}]},"legend":null},
          "stroke":{"field":"grp","type":"nominal","scale":{"domain":["Morphine","Morphine + LY2828360"],"range":["#1a1a1a","#9c9c9c"]},"legend":null}}},
        {"data":{"name":"bars"},"transform":[{"filter":"datum.panel == 'C'"}],
         "mark":{"type":"bar","strokeWidth":2,"fill":{"expr":"datum.grp == 'Morphine' || datum.grp == 'Day 12: Morphine' ? '#1a1a1a' : {gradient: 'linear', x1: 0, y1: 1, x2: 3911 / (542 + pow(datum.mean * 0.885, 2)), y2: 1 - 148.7 * datum.mean / (542 + pow(datum.mean * 0.885, 2)), stops: datum.grp == 'Day 1: Morphine' ? sWB : (datum.grp == 'Day 1: Morphine + LY2828360' ? sWG : sGB)}"},"stroke":{"expr":"indexof(datum.grp, 'LY') >= 0 ? '#9c9c9c' : '#1a1a1a'"}},
         "encoding":{"xOffset":{"field":"grp","type":"nominal"},"y":{"field":"mean","type":"quantitative","stack":null,"title":"Expulsion Time (min)"}}},
        {"data":{"name":"bars"},"transform":[{"filter":"datum.panel == 'C'"}],
         "mark":{"type":"rule","strokeWidth":2,"color":{"expr":"indexof(datum.grp, 'LY') >= 0 ? '#9c9c9c' : '#1a1a1a'"}},
         "encoding":{"xOffset":{"field":"grp","type":"nominal"},"y":{"field":"mean","type":"quantitative","title":"Expulsion Time (min)"},"y2":{"field":"upper"}}},
        {"data":{"name":"bars"},"transform":[{"filter":"datum.panel == 'C'"}],
         "mark":{"type":"tick","size":12,"thickness":2,"opacity":1,"color":{"expr":"indexof(datum.grp, 'LY') >= 0 ? '#9c9c9c' : '#1a1a1a'"}},
         "encoding":{"xOffset":{"field":"grp","type":"nominal"},"y":{"field":"upper","type":"quantitative","title":"Expulsion Time (min)"}}},
        {"data":{"name":"sig"},"transform":[{"filter":"datum.panel == 'C'"}],
         "mark":{"type":"tick","size":54,"thickness":2.5,"opacity":1,"color":"#1a1a1a"},
         "encoding":{"y":{"field":"y","type":"quantitative","title":"Expulsion Time (min)"}}},
        {"data":{"name":"sig"},"transform":[{"filter":"datum.panel == 'C'"}],
         "mark":{"type":"text","fontWeight":"bold","baseline":"alphabetic","color":"#1a1a1a","fontSize":{"expr":"indexof(datum.label, '*') >= 0 ? 17 : 11"},"dy":{"expr":"indexof(datum.label, '*') >= 0 ? 3 : -3"}},
         "encoding":{"y":{"field":"y","type":"quantitative","title":"Expulsion Time (min)"},"text":{"field":"label","type":"nominal"}}}
       ]}]},
     {"title":{"text":"D","anchor":"start","fontSize":25,"offset":-7,"dx":23},
      "vconcat":[{"width":270,"height":177,
       "title":{"text":["Day 1 vs. Day 12:","Morphine"],"fontSize":14.5,"lineHeight":18,"offset":-11,"anchor":"middle","frame":"group"},
       "encoding":{"x":{"field":"dose","type":"nominal","sort":["0","1","3","10"],"scale":{"domain":["0","1","3","10"],"paddingInner":0.22,"paddingOuter":0.12},"axis":{"title":"Morphine dose (mg/kg)"}}},
       "layer":[
        {"data":{"name":"bars"},"transform":[{"filter":"datum.panel == 'D'"}],"mark":{"type":"bar"},
         "encoding":{"xOffset":{"field":"grp","type":"nominal","scale":{"domain":["Day 1: Morphine","Day 12: Morphine"],"paddingInner":0.2,"paddingOuter":0}},
          "y":{"field":"mean","type":"quantitative","stack":null,"scale":{"domain":[0,200]},"axis":{"values":[0,50,100,150,200],"title":"Expulsion Time (min)"}},
          "fill":{"field":"grp","type":"nominal","scale":{"domain":["Day 1: Morphine","Day 12: Morphine"],"range":[{"expr":"lgWB"},"#1a1a1a"]},"legend":null},
          "stroke":{"field":"grp","type":"nominal","scale":{"domain":["Day 1: Morphine","Day 12: Morphine"],"range":["#1a1a1a","#1a1a1a"]},"legend":null}}},
        {"data":{"name":"bars"},"transform":[{"filter":"datum.panel == 'D'"}],
         "mark":{"type":"bar","strokeWidth":2,"fill":{"expr":"datum.grp == 'Morphine' || datum.grp == 'Day 12: Morphine' ? '#1a1a1a' : {gradient: 'linear', x1: 0, y1: 1, x2: 3911 / (542 + pow(datum.mean * 0.885, 2)), y2: 1 - 148.7 * datum.mean / (542 + pow(datum.mean * 0.885, 2)), stops: datum.grp == 'Day 1: Morphine' ? sWB : (datum.grp == 'Day 1: Morphine + LY2828360' ? sWG : sGB)}"},"stroke":{"expr":"indexof(datum.grp, 'LY') >= 0 ? '#9c9c9c' : '#1a1a1a'"}},
         "encoding":{"xOffset":{"field":"grp","type":"nominal"},"y":{"field":"mean","type":"quantitative","stack":null,"title":"Expulsion Time (min)"}}},
        {"data":{"name":"bars"},"transform":[{"filter":"datum.panel == 'D'"}],
         "mark":{"type":"rule","strokeWidth":2,"color":{"expr":"indexof(datum.grp, 'LY') >= 0 ? '#9c9c9c' : '#1a1a1a'"}},
         "encoding":{"xOffset":{"field":"grp","type":"nominal"},"y":{"field":"mean","type":"quantitative","title":"Expulsion Time (min)"},"y2":{"field":"upper"}}},
        {"data":{"name":"bars"},"transform":[{"filter":"datum.panel == 'D'"}],
         "mark":{"type":"tick","size":12,"thickness":2,"opacity":1,"color":{"expr":"indexof(datum.grp, 'LY') >= 0 ? '#9c9c9c' : '#1a1a1a'"}},
         "encoding":{"xOffset":{"field":"grp","type":"nominal"},"y":{"field":"upper","type":"quantitative","title":"Expulsion Time (min)"}}},
        {"data":{"name":"sig"},"transform":[{"filter":"datum.panel == 'D'"}],
         "mark":{"type":"tick","size":54,"thickness":2.5,"opacity":1,"color":"#1a1a1a"},
         "encoding":{"y":{"field":"y","type":"quantitative","title":"Expulsion Time (min)"}}},
        {"data":{"name":"sig"},"transform":[{"filter":"datum.panel == 'D'"}],
         "mark":{"type":"text","fontWeight":"bold","baseline":"alphabetic","color":"#1a1a1a","fontSize":{"expr":"indexof(datum.label, '*') >= 0 ? 17 : 11"},"dy":{"expr":"indexof(datum.label, '*') >= 0 ? 3 : -3"}},
         "encoding":{"y":{"field":"y","type":"quantitative","title":"Expulsion Time (min)"},"text":{"field":"label","type":"nominal"}}},
        {"data":{"name":"marks"},"transform":[{"filter":"datum.panel == 'D'"}],
         "mark":{"type":"text","fontSize":15,"fontWeight":"bold","baseline":"middle","color":"#1a1a1a"},
         "encoding":{"xOffset":{"field":"grp","type":"nominal"},"y":{"field":"y","type":"quantitative","title":"Expulsion Time (min)"},"text":{"field":"label","type":"nominal"}}}
       ]}]},
     {"title":{"text":"E","anchor":"start","fontSize":25,"offset":-7,"dx":24},
      "vconcat":[{"width":270,"height":177,
       "title":{"text":["Day 1 vs. Day 12:","Morphine + LY2828360"],"fontSize":14.5,"lineHeight":18,"offset":-11,"anchor":"middle","frame":"group"},
       "encoding":{"x":{"field":"dose","type":"nominal","sort":["0","1","3","10"],"scale":{"domain":["0","1","3","10"],"paddingInner":0.22,"paddingOuter":0.12},"axis":{"title":"Morphine dose (mg/kg)"}}},
       "layer":[
        {"data":{"name":"bars"},"transform":[{"filter":"datum.panel == 'E'"}],"mark":{"type":"bar"},
         "encoding":{"xOffset":{"field":"grp","type":"nominal","scale":{"domain":["Day 1: Morphine + LY2828360","Day 12: Morphine + LY2828360"],"paddingInner":0.2,"paddingOuter":0}},
          "y":{"field":"mean","type":"quantitative","stack":null,"scale":{"domain":[0,200]},"axis":{"values":[0,50,100,150,200],"title":"Expulsion Time (min)"}},
          "fill":{"field":"grp","type":"nominal","scale":{"domain":["Day 1: Morphine + LY2828360","Day 12: Morphine + LY2828360"],"range":[{"expr":"lgWG"},{"expr":"lgGB"}]},"legend":null},
          "stroke":{"field":"grp","type":"nominal","scale":{"domain":["Day 1: Morphine + LY2828360","Day 12: Morphine + LY2828360"],"range":["#9c9c9c","#9c9c9c"]},"legend":null}}},
        {"data":{"name":"bars"},"transform":[{"filter":"datum.panel == 'E'"}],
         "mark":{"type":"bar","strokeWidth":2,"fill":{"expr":"datum.grp == 'Morphine' || datum.grp == 'Day 12: Morphine' ? '#1a1a1a' : {gradient: 'linear', x1: 0, y1: 1, x2: 3911 / (542 + pow(datum.mean * 0.885, 2)), y2: 1 - 148.7 * datum.mean / (542 + pow(datum.mean * 0.885, 2)), stops: datum.grp == 'Day 1: Morphine' ? sWB : (datum.grp == 'Day 1: Morphine + LY2828360' ? sWG : sGB)}"},"stroke":{"expr":"indexof(datum.grp, 'LY') >= 0 ? '#9c9c9c' : '#1a1a1a'"}},
         "encoding":{"xOffset":{"field":"grp","type":"nominal"},"y":{"field":"mean","type":"quantitative","stack":null,"title":"Expulsion Time (min)"}}},
        {"data":{"name":"bars"},"transform":[{"filter":"datum.panel == 'E'"}],
         "mark":{"type":"rule","strokeWidth":2,"color":{"expr":"indexof(datum.grp, 'LY') >= 0 ? '#9c9c9c' : '#1a1a1a'"}},
         "encoding":{"xOffset":{"field":"grp","type":"nominal"},"y":{"field":"mean","type":"quantitative","title":"Expulsion Time (min)"},"y2":{"field":"upper"}}},
        {"data":{"name":"bars"},"transform":[{"filter":"datum.panel == 'E'"}],
         "mark":{"type":"tick","size":12,"thickness":2,"opacity":1,"color":{"expr":"indexof(datum.grp, 'LY') >= 0 ? '#9c9c9c' : '#1a1a1a'"}},
         "encoding":{"xOffset":{"field":"grp","type":"nominal"},"y":{"field":"upper","type":"quantitative","title":"Expulsion Time (min)"}}},
        {"data":{"name":"sig"},"transform":[{"filter":"datum.panel == 'E'"}],
         "mark":{"type":"tick","size":54,"thickness":2.5,"opacity":1,"color":"#1a1a1a"},
         "encoding":{"y":{"field":"y","type":"quantitative","title":"Expulsion Time (min)"}}},
        {"data":{"name":"sig"},"transform":[{"filter":"datum.panel == 'E'"}],
         "mark":{"type":"text","fontWeight":"bold","baseline":"alphabetic","color":"#1a1a1a","fontSize":{"expr":"indexof(datum.label, '*') >= 0 ? 17 : 11"},"dy":{"expr":"indexof(datum.label, '*') >= 0 ? 3 : -3"}},
         "encoding":{"y":{"field":"y","type":"quantitative","title":"Expulsion Time (min)"},"text":{"field":"label","type":"nominal"}}}
       ]}]}
    ]
   },
   {
    "title":{"text":"Fecal Boli Accumulation","fontSize":34,"anchor":"middle","dx":32,"offset":13},
    "spacing":7,
    "resolve":{"scale":{"fill":"independent","stroke":"independent","xOffset":"independent","color":"independent","x":"independent","y":"independent"}},
    "hconcat":[
     {"title":{"text":"F","anchor":"start","fontSize":25,"offset":-4,"dx":20},
      "vconcat":[{"width":270,"height":177,
       "title":{"text":["Day 1"," "],"fontSize":14.5,"lineHeight":18,"offset":-11,"anchor":"middle","frame":"group"},
       "encoding":{"x":{"field":"dose","type":"nominal","sort":["0","1","3","10"],"scale":{"domain":["0","1","3","10"],"paddingInner":0.22,"paddingOuter":0.12},"axis":{"title":"Morphine dose (mg/kg)"}}},
       "layer":[
        {"data":{"name":"bars"},"transform":[{"filter":"datum.panel == 'F'"}],"mark":{"type":"bar"},
         "encoding":{"xOffset":{"field":"grp","type":"nominal","scale":{"domain":["Morphine","Morphine + LY2828360"],"paddingInner":0.2,"paddingOuter":0}},
          "y":{"field":"mean","type":"quantitative","stack":null,"scale":{"domain":[0,200]},"axis":{"values":[0,50,100,150,200],"title":"Fecal Boli (mg)"}},
          "fill":{"field":"grp","type":"nominal","scale":{"domain":["Morphine","Morphine + LY2828360"],"range":["#1a1a1a",{"expr":"lgGB"}]},"legend":{"orient":"bottom","direction":"vertical","title":" ","titleOrient":"left","titlePadding":7,"titleFontSize":10,"symbolType":"M-1,-0.46H1V0.46H-1Z","symbolSize":676,"symbolStrokeWidth":1.5,"labelFontSize":17,"labelFontWeight":"bold","labelColor":"#1a1a1a","labelLimit":400,"rowPadding":26,"offset":24,"labelOffset":14,"padding":0}},
          "stroke":{"field":"grp","type":"nominal","scale":{"domain":["Morphine","Morphine + LY2828360"],"range":["#1a1a1a","#9c9c9c"]},"legend":{"orient":"bottom","direction":"vertical","title":" ","titleOrient":"left","titlePadding":7,"titleFontSize":10,"symbolType":"M-1,-0.46H1V0.46H-1Z","symbolSize":676,"symbolStrokeWidth":1.5,"labelFontSize":17,"labelFontWeight":"bold","labelColor":"#1a1a1a","labelLimit":400,"rowPadding":26,"offset":24,"labelOffset":14,"padding":0}}}},
        {"data":{"name":"bars"},"transform":[{"filter":"datum.panel == 'F'"}],
         "mark":{"type":"bar","strokeWidth":2,"fill":{"expr":"datum.grp == 'Morphine' || datum.grp == 'Day 12: Morphine' ? '#1a1a1a' : {gradient: 'linear', x1: 0, y1: 1, x2: 3911 / (542 + pow(datum.mean * 0.885, 2)), y2: 1 - 148.7 * datum.mean / (542 + pow(datum.mean * 0.885, 2)), stops: datum.grp == 'Day 1: Morphine' ? sWB : (datum.grp == 'Day 1: Morphine + LY2828360' ? sWG : sGB)}"},"stroke":{"expr":"indexof(datum.grp, 'LY') >= 0 ? '#9c9c9c' : '#1a1a1a'"}},
         "encoding":{"xOffset":{"field":"grp","type":"nominal"},"y":{"field":"mean","type":"quantitative","stack":null,"title":"Fecal Boli (mg)"}}},
        {"data":{"name":"bars"},"transform":[{"filter":"datum.panel == 'F'"}],
         "mark":{"type":"rule","strokeWidth":2,"color":{"expr":"indexof(datum.grp, 'LY') >= 0 ? '#9c9c9c' : '#1a1a1a'"}},
         "encoding":{"xOffset":{"field":"grp","type":"nominal"},"y":{"field":"mean","type":"quantitative","title":"Fecal Boli (mg)"},"y2":{"field":"upper"}}},
        {"data":{"name":"bars"},"transform":[{"filter":"datum.panel == 'F'"}],
         "mark":{"type":"tick","size":12,"thickness":2,"opacity":1,"color":{"expr":"indexof(datum.grp, 'LY') >= 0 ? '#9c9c9c' : '#1a1a1a'"}},
         "encoding":{"xOffset":{"field":"grp","type":"nominal"},"y":{"field":"upper","type":"quantitative","title":"Fecal Boli (mg)"}}},
        {"data":{"name":"sig"},"transform":[{"filter":"datum.panel == 'F'"}],
         "mark":{"type":"tick","size":54,"thickness":2.5,"opacity":1,"color":"#1a1a1a"},
         "encoding":{"y":{"field":"y","type":"quantitative","title":"Fecal Boli (mg)"}}},
        {"data":{"name":"sig"},"transform":[{"filter":"datum.panel == 'F'"}],
         "mark":{"type":"text","fontWeight":"bold","baseline":"alphabetic","color":"#1a1a1a","fontSize":{"expr":"indexof(datum.label, '*') >= 0 ? 17 : 11"},"dy":{"expr":"indexof(datum.label, '*') >= 0 ? 3 : -3"}},
         "encoding":{"y":{"field":"y","type":"quantitative","title":"Fecal Boli (mg)"},"text":{"field":"label","type":"nominal"}}}
       ]}]},
     {"title":{"text":"G","anchor":"start","fontSize":25,"offset":-4,"dx":22},
      "vconcat":[{"width":270,"height":177,
       "title":{"text":["Day 12"," "],"fontSize":14.5,"lineHeight":18,"offset":-11,"anchor":"middle","frame":"group"},
       "encoding":{"x":{"field":"dose","type":"nominal","sort":["0","1","3","10"],"scale":{"domain":["0","1","3","10"],"paddingInner":0.22,"paddingOuter":0.12},"axis":{"title":"Morphine dose (mg/kg)"}}},
       "layer":[
        {"data":{"name":"bars"},"transform":[{"filter":"datum.panel == 'G'"}],"mark":{"type":"bar"},
         "encoding":{"xOffset":{"field":"grp","type":"nominal","scale":{"domain":["Morphine","Morphine + LY2828360"],"paddingInner":0.2,"paddingOuter":0}},
          "y":{"field":"mean","type":"quantitative","stack":null,"scale":{"domain":[0,200]},"axis":{"values":[0,50,100,150,200],"title":"Fecal Boli (mg)"}},
          "fill":{"field":"grp","type":"nominal","scale":{"domain":["Morphine","Morphine + LY2828360"],"range":["#1a1a1a",{"expr":"lgGB"}]},"legend":{"orient":"bottom","direction":"vertical","title":" ","titleOrient":"left","titlePadding":19,"titleFontSize":10,"symbolType":"M-1,-0.46H1V0.46H-1Z","symbolSize":676,"symbolStrokeWidth":1.5,"labelFontSize":17,"labelFontWeight":"bold","labelColor":"#1a1a1a","labelLimit":400,"rowPadding":26,"offset":24,"labelOffset":14,"padding":0}},
          "stroke":{"field":"grp","type":"nominal","scale":{"domain":["Morphine","Morphine + LY2828360"],"range":["#1a1a1a","#9c9c9c"]},"legend":{"orient":"bottom","direction":"vertical","title":" ","titleOrient":"left","titlePadding":19,"titleFontSize":10,"symbolType":"M-1,-0.46H1V0.46H-1Z","symbolSize":676,"symbolStrokeWidth":1.5,"labelFontSize":17,"labelFontWeight":"bold","labelColor":"#1a1a1a","labelLimit":400,"rowPadding":26,"offset":24,"labelOffset":14,"padding":0}}}},
        {"data":{"name":"bars"},"transform":[{"filter":"datum.panel == 'G'"}],
         "mark":{"type":"bar","strokeWidth":2,"fill":{"expr":"datum.grp == 'Morphine' || datum.grp == 'Day 12: Morphine' ? '#1a1a1a' : {gradient: 'linear', x1: 0, y1: 1, x2: 3911 / (542 + pow(datum.mean * 0.885, 2)), y2: 1 - 148.7 * datum.mean / (542 + pow(datum.mean * 0.885, 2)), stops: datum.grp == 'Day 1: Morphine' ? sWB : (datum.grp == 'Day 1: Morphine + LY2828360' ? sWG : sGB)}"},"stroke":{"expr":"indexof(datum.grp, 'LY') >= 0 ? '#9c9c9c' : '#1a1a1a'"}},
         "encoding":{"xOffset":{"field":"grp","type":"nominal"},"y":{"field":"mean","type":"quantitative","stack":null,"title":"Fecal Boli (mg)"}}},
        {"data":{"name":"bars"},"transform":[{"filter":"datum.panel == 'G'"}],
         "mark":{"type":"rule","strokeWidth":2,"color":{"expr":"indexof(datum.grp, 'LY') >= 0 ? '#9c9c9c' : '#1a1a1a'"}},
         "encoding":{"xOffset":{"field":"grp","type":"nominal"},"y":{"field":"mean","type":"quantitative","title":"Fecal Boli (mg)"},"y2":{"field":"upper"}}},
        {"data":{"name":"bars"},"transform":[{"filter":"datum.panel == 'G'"}],
         "mark":{"type":"tick","size":12,"thickness":2,"opacity":1,"color":{"expr":"indexof(datum.grp, 'LY') >= 0 ? '#9c9c9c' : '#1a1a1a'"}},
         "encoding":{"xOffset":{"field":"grp","type":"nominal"},"y":{"field":"upper","type":"quantitative","title":"Fecal Boli (mg)"}}},
        {"data":{"name":"sig"},"transform":[{"filter":"datum.panel == 'G'"}],
         "mark":{"type":"tick","size":54,"thickness":2.5,"opacity":1,"color":"#1a1a1a"},
         "encoding":{"y":{"field":"y","type":"quantitative","title":"Fecal Boli (mg)"}}},
        {"data":{"name":"sig"},"transform":[{"filter":"datum.panel == 'G'"}],
         "mark":{"type":"text","fontWeight":"bold","baseline":"alphabetic","color":"#1a1a1a","fontSize":{"expr":"indexof(datum.label, '*') >= 0 ? 17 : 11"},"dy":{"expr":"indexof(datum.label, '*') >= 0 ? 3 : -3"}},
         "encoding":{"y":{"field":"y","type":"quantitative","title":"Fecal Boli (mg)"},"text":{"field":"label","type":"nominal"}}}
       ]}]},
     {"title":{"text":"H","anchor":"start","fontSize":25,"offset":-4,"dx":23},
      "vconcat":[{"width":270,"height":177,
       "title":{"text":["Day 1 vs. Day 12:","Morphine"],"fontSize":14.5,"lineHeight":18,"offset":-11,"anchor":"middle","frame":"group"},
       "encoding":{"x":{"field":"dose","type":"nominal","sort":["0","1","3","10"],"scale":{"domain":["0","1","3","10"],"paddingInner":0.22,"paddingOuter":0.12},"axis":{"title":"Morphine dose (mg/kg)"}}},
       "layer":[
        {"data":{"name":"bars"},"transform":[{"filter":"datum.panel == 'H'"}],"mark":{"type":"bar"},
         "encoding":{"xOffset":{"field":"grp","type":"nominal","scale":{"domain":["Day 1: Morphine","Day 12: Morphine"],"paddingInner":0.2,"paddingOuter":0}},
          "y":{"field":"mean","type":"quantitative","stack":null,"scale":{"domain":[0,200]},"axis":{"values":[0,50,100,150,200],"title":"Fecal Boli (mg)"}},
          "fill":{"field":"grp","type":"nominal","scale":{"domain":["Day 1: Morphine","Day 12: Morphine"],"range":[{"expr":"lgWB"},"#1a1a1a"]},"legend":{"orient":"bottom","direction":"vertical","title":" ","titleOrient":"left","titlePadding":45,"titleFontSize":10,"symbolType":"M-1,-0.46H1V0.46H-1Z","symbolSize":676,"symbolStrokeWidth":1.5,"labelFontSize":17,"labelFontWeight":"bold","labelColor":"#1a1a1a","labelLimit":400,"rowPadding":26,"offset":24,"labelOffset":14,"padding":0}},
          "stroke":{"field":"grp","type":"nominal","scale":{"domain":["Day 1: Morphine","Day 12: Morphine"],"range":["#1a1a1a","#1a1a1a"]},"legend":{"orient":"bottom","direction":"vertical","title":" ","titleOrient":"left","titlePadding":45,"titleFontSize":10,"symbolType":"M-1,-0.46H1V0.46H-1Z","symbolSize":676,"symbolStrokeWidth":1.5,"labelFontSize":17,"labelFontWeight":"bold","labelColor":"#1a1a1a","labelLimit":400,"rowPadding":26,"offset":24,"labelOffset":14,"padding":0}}}},
        {"data":{"name":"bars"},"transform":[{"filter":"datum.panel == 'H'"}],
         "mark":{"type":"bar","strokeWidth":2,"fill":{"expr":"datum.grp == 'Morphine' || datum.grp == 'Day 12: Morphine' ? '#1a1a1a' : {gradient: 'linear', x1: 0, y1: 1, x2: 3911 / (542 + pow(datum.mean * 0.885, 2)), y2: 1 - 148.7 * datum.mean / (542 + pow(datum.mean * 0.885, 2)), stops: datum.grp == 'Day 1: Morphine' ? sWB : (datum.grp == 'Day 1: Morphine + LY2828360' ? sWG : sGB)}"},"stroke":{"expr":"indexof(datum.grp, 'LY') >= 0 ? '#9c9c9c' : '#1a1a1a'"}},
         "encoding":{"xOffset":{"field":"grp","type":"nominal"},"y":{"field":"mean","type":"quantitative","stack":null,"title":"Fecal Boli (mg)"}}},
        {"data":{"name":"bars"},"transform":[{"filter":"datum.panel == 'H'"}],
         "mark":{"type":"rule","strokeWidth":2,"color":{"expr":"indexof(datum.grp, 'LY') >= 0 ? '#9c9c9c' : '#1a1a1a'"}},
         "encoding":{"xOffset":{"field":"grp","type":"nominal"},"y":{"field":"mean","type":"quantitative","title":"Fecal Boli (mg)"},"y2":{"field":"upper"}}},
        {"data":{"name":"bars"},"transform":[{"filter":"datum.panel == 'H'"}],
         "mark":{"type":"tick","size":12,"thickness":2,"opacity":1,"color":{"expr":"indexof(datum.grp, 'LY') >= 0 ? '#9c9c9c' : '#1a1a1a'"}},
         "encoding":{"xOffset":{"field":"grp","type":"nominal"},"y":{"field":"upper","type":"quantitative","title":"Fecal Boli (mg)"}}}
       ]}]},
     {"title":{"text":"I","anchor":"start","fontSize":25,"offset":-4,"dx":32},
      "vconcat":[{"width":270,"height":177,
       "title":{"text":["Day 1 vs. Day 12:","Morphine + LY2828360"],"fontSize":14.5,"lineHeight":18,"offset":-11,"anchor":"middle","frame":"group"},
       "encoding":{"x":{"field":"dose","type":"nominal","sort":["0","1","3","10"],"scale":{"domain":["0","1","3","10"],"paddingInner":0.22,"paddingOuter":0.12},"axis":{"title":"Morphine dose (mg/kg)"}}},
       "layer":[
        {"data":{"name":"bars"},"transform":[{"filter":"datum.panel == 'I'"}],"mark":{"type":"bar"},
         "encoding":{"xOffset":{"field":"grp","type":"nominal","scale":{"domain":["Day 1: Morphine + LY2828360","Day 12: Morphine + LY2828360"],"paddingInner":0.2,"paddingOuter":0}},
          "y":{"field":"mean","type":"quantitative","stack":null,"scale":{"domain":[0,200]},"axis":{"values":[0,50,100,150,200],"title":"Fecal Boli (mg)"}},
          "fill":{"field":"grp","type":"nominal","scale":{"domain":["Day 1: Morphine + LY2828360","Day 12: Morphine + LY2828360"],"range":[{"expr":"lgWG"},{"expr":"lgGB"}]},"legend":{"orient":"bottom","direction":"vertical","title":" ","titleOrient":"left","titlePadding":46,"titleFontSize":10,"symbolType":"M-1,-0.46H1V0.46H-1Z","symbolSize":676,"symbolStrokeWidth":1.5,"labelFontSize":17,"labelFontWeight":"bold","labelColor":"#1a1a1a","labelLimit":400,"labelBaseline":"alphabetic","rowPadding":7,"offset":19,"labelOffset":14,"padding":0,"labelExpr":"datum.label == 'Day 1: Morphine + LY2828360' ? ['Day 1: Morphine', '+ LY2828360'] : ['Day 12: Morphine', '+ LY2828360']"}},
          "stroke":{"field":"grp","type":"nominal","scale":{"domain":["Day 1: Morphine + LY2828360","Day 12: Morphine + LY2828360"],"range":["#9c9c9c","#9c9c9c"]},"legend":{"orient":"bottom","direction":"vertical","title":" ","titleOrient":"left","titlePadding":46,"titleFontSize":10,"symbolType":"M-1,-0.46H1V0.46H-1Z","symbolSize":676,"symbolStrokeWidth":1.5,"labelFontSize":17,"labelFontWeight":"bold","labelColor":"#1a1a1a","labelLimit":400,"labelBaseline":"alphabetic","rowPadding":7,"offset":19,"labelOffset":14,"padding":0,"labelExpr":"datum.label == 'Day 1: Morphine + LY2828360' ? ['Day 1: Morphine', '+ LY2828360'] : ['Day 12: Morphine', '+ LY2828360']"}}}},
        {"data":{"name":"bars"},"transform":[{"filter":"datum.panel == 'I'"}],
         "mark":{"type":"bar","strokeWidth":2,"fill":{"expr":"datum.grp == 'Morphine' || datum.grp == 'Day 12: Morphine' ? '#1a1a1a' : {gradient: 'linear', x1: 0, y1: 1, x2: 3911 / (542 + pow(datum.mean * 0.885, 2)), y2: 1 - 148.7 * datum.mean / (542 + pow(datum.mean * 0.885, 2)), stops: datum.grp == 'Day 1: Morphine' ? sWB : (datum.grp == 'Day 1: Morphine + LY2828360' ? sWG : sGB)}"},"stroke":{"expr":"indexof(datum.grp, 'LY') >= 0 ? '#9c9c9c' : '#1a1a1a'"}},
         "encoding":{"xOffset":{"field":"grp","type":"nominal"},"y":{"field":"mean","type":"quantitative","stack":null,"title":"Fecal Boli (mg)"}}},
        {"data":{"name":"bars"},"transform":[{"filter":"datum.panel == 'I'"}],
         "mark":{"type":"rule","strokeWidth":2,"color":{"expr":"indexof(datum.grp, 'LY') >= 0 ? '#9c9c9c' : '#1a1a1a'"}},
         "encoding":{"xOffset":{"field":"grp","type":"nominal"},"y":{"field":"mean","type":"quantitative","title":"Fecal Boli (mg)"},"y2":{"field":"upper"}}},
        {"data":{"name":"bars"},"transform":[{"filter":"datum.panel == 'I'"}],
         "mark":{"type":"tick","size":12,"thickness":2,"opacity":1,"color":{"expr":"indexof(datum.grp, 'LY') >= 0 ? '#9c9c9c' : '#1a1a1a'"}},
         "encoding":{"xOffset":{"field":"grp","type":"nominal"},"y":{"field":"upper","type":"quantitative","title":"Fecal Boli (mg)"}}}
       ]}]}
    ]
   }
  ]
 }
]
}
